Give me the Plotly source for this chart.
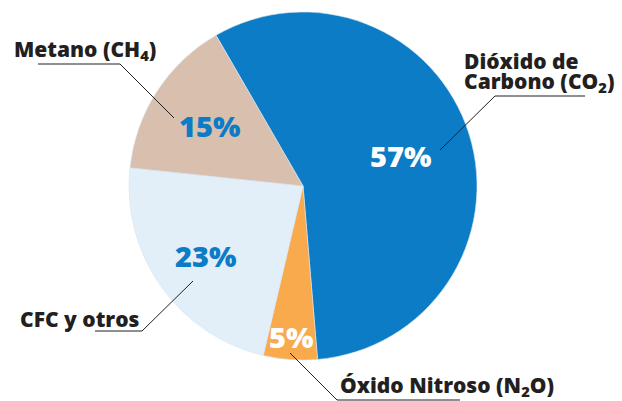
import math
import plotly.graph_objects as go

labels = ["Dióxido de Carbono (CO2)", "Óxido Nitroso (N2O)", "CFC y otros", "Metano (CH4)"]
values = [57, 5, 23, 15]
pct_text = ["57%", "5%", "23%", "15%"]
colors = ["#0b7cc5", "#f9aa4d", "#e2eef8", "#d8bfae"]
text_colors = ["#ffffff", "#ffffff", "#0b7cc5", "#0b7cc5"]
label_radius = [0.59, 0.87, 0.69, 0.64]   # radial position of percent labels (fraction of radius)

W, H = 622, 401
def px(x): return x / W
def py(y): return 1 - y / H

FAM = "Open Sans"
START = -30  # degrees clockwise from 12 o'clock
DOM_X = [px(129), px(477)]
DOM_Y = [py(360), py(12)]

fig = go.Figure(go.Pie(
    labels=labels, values=values,
    textinfo="none",
    sort=False, direction="clockwise", rotation=START,
    marker=dict(colors=colors, line=dict(color="#d6e6f2", width=0.6)),
    domain=dict(x=DOM_X, y=DOM_Y),
    showlegend=False, hoverinfo="label+percent",
))

# percent labels placed along each slice's mid-angle
cx_p = (DOM_X[0] + DOM_X[1]) / 2 * W
cy_p = (1 - (DOM_Y[0] + DOM_Y[1]) / 2) * H
R = (DOM_X[1] - DOM_X[0]) * W / 2
total = sum(values)
acc = 0
for v, t, c, f in zip(values, pct_text, text_colors, label_radius):
    mid = math.radians(START + (acc + v / 2) / total * 360)
    acc += v
    x = cx_p + f * R * math.sin(mid)
    y = cy_p - f * R * math.cos(mid)
    fig.add_annotation(xref="paper", yref="paper", x=px(x), y=py(y), text=t,
                       showarrow=False, xanchor="center", yanchor="middle",
                       font=dict(family=FAM, size=29, color=c, weight=800))

font = dict(family=FAM, size=21, color="#231f20", weight=800)
ann = [
    dict(text="Metano (CH<sub>4</sub>)", x=px(12), y=py(50)),
    dict(text="Dióxido de", x=px(462), y=py(61)),
    dict(text="Carbono (CO<sub>2</sub>)", x=px(462), y=py(82)),
    dict(text="CFC y otros", x=px(18), y=py(319)),
    dict(text="Óxido Nitroso (N<sub>2</sub>O)", x=px(338), y=py(386)),
]
for a in ann:
    fig.add_annotation(xref="paper", yref="paper", showarrow=False, font=font,
                       xanchor="left", yanchor="middle", **a)

lines = [
    [(38, 64), (120, 64), (174, 118)],
    [(585, 96), (495, 96), (440, 150)],
    [(95, 331), (142, 331), (193, 281)],
    [(290, 353), (337, 400), (460, 400)],
]
for pts in lines:
    for (x0, y0), (x1, y1) in zip(pts[:-1], pts[1:]):
        fig.add_shape(type="line", xref="paper", yref="paper",
                      x0=px(x0), y0=py(y0), x1=px(x1), y1=py(y1),
                      line=dict(color="#231f20", width=1))

fig.update_layout(width=W, height=H, margin=dict(l=0, r=0, t=0, b=0),
                  paper_bgcolor="white", plot_bgcolor="white")
fig.write_html("out.html", config={"displayModeBar": False},
               post_script="document.body.style.margin='0';")
